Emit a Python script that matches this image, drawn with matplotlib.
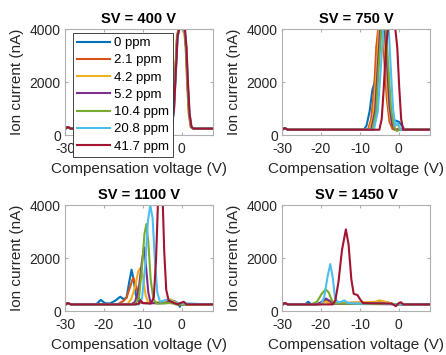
import matplotlib.pyplot as plt

plt.rcParams['font.family'] = ['Liberation Sans', 'DejaVu Sans']
plt.rcParams['axes.unicode_minus'] = False

labels = ['0 ppm', '2.1 ppm', '4.2 ppm', '5.2 ppm', '10.4 ppm', '20.8 ppm', '41.7 ppm']
colors = ['#0072BD', '#D95319', '#EDB120', '#7E2F8E', '#77AC30', '#4DBEEE', '#A2142F']
titles = ['SV = 400 V', 'SV = 750 V', 'SV = 1100 V', 'SV = 1450 V']

# SV = 400 V  (compensation voltage, ion current)
cv_400 = [
    [-30, -29.3, -28.5, -3.2, -2.5, -2.0, -1.5, -1.1, -0.7, 0.7, 1.1, 1.5, 1.9, 2.4, 3.0, 8],
    [-30, -29.3, -28.5, -3.3, -2.6, -2.1, -1.6, -1.2, -0.8, 0.6, 1.0, 1.4, 1.8, 2.3, 2.9, 8],
    [-30, -29.3, -28.5, -3.4, -2.7, -2.2, -1.7, -1.3, -0.9, 0.6, 1.0, 1.4, 1.8, 2.3, 2.9, 8],
    [-30, -29.3, -28.5, -3.3, -2.6, -2.1, -1.6, -1.2, -0.8, 0.7, 1.1, 1.5, 1.9, 2.4, 3.0, 8],
    [-30, -29.3, -28.5, -3.3, -2.6, -2.1, -1.6, -1.2, -0.8, 0.7, 1.1, 1.5, 1.9, 2.4, 3.0, 8],
    [-30, -29.3, -28.5, -3.2, -2.5, -2.0, -1.5, -1.1, -0.7, 0.8, 1.2, 1.6, 2.0, 2.5, 3.1, 8],
    [-30, -29.3, -28.5, -3.2, -2.5, -2.0, -1.5, -1.1, -0.7, 0.8, 1.2, 1.6, 2.0, 2.5, 3.1, 8],
]
ic_400 = [
    [230, 300, 240, 240, 350, 1000, 2500, 3700, 4000, 4000, 3300, 1900, 800, 300, 240, 240],
    [230, 300, 240, 240, 350, 1000, 2500, 3700, 4000, 4000, 3300, 1900, 800, 300, 240, 240],
    [230, 300, 240, 240, 350, 1000, 2500, 3700, 4000, 4000, 3300, 1900, 800, 300, 240, 240],
    [230, 300, 240, 240, 350, 1000, 2500, 3700, 4000, 4000, 3300, 1900, 800, 300, 240, 240],
    [230, 300, 240, 240, 350, 1000, 2500, 3700, 4000, 4000, 3300, 1900, 800, 300, 240, 240],
    [230, 300, 240, 240, 350, 1000, 2500, 3700, 4000, 4000, 3300, 1900, 800, 300, 240, 240],
    [230, 300, 240, 240, 350, 1000, 2500, 3700, 4000, 4000, 3300, 1900, 800, 300, 240, 240],
]

# SV = 750 V
cv_750 = [
    [-30, -29.3, -28.5, -9.0, -8.3, -7.5, -6.8, -6.2, -5.6, -5.0, -3.9, -3.3, -2.6, -1.9, -1.0, 0.0, 0.8, 1.5, 8],
    [-30, -29.3, -28.5, -7.9, -7.1, -6.3, -5.8, -5.3, -4.4, -3.8, -3.1, -2.4, -1.6, 8],
    [-30, -29.3, -28.5, -7.6, -6.6, -5.8, -5.1, -4.0, -3.4, -2.7, -2.0, -1.2, -0.4, 0.4, 8],
    [-30, -29.3, -28.5, -7.1, -6.1, -5.4, -4.8, -3.6, -3.0, -2.4, -1.7, -1.0, 8],
    [-30, -29.3, -28.5, -6.8, -5.8, -5.1, -4.5, -3.3, -2.7, -2.0, -1.2, -0.5, 0.2, 8],
    [-30, -29.3, -28.5, -6.4, -5.4, -4.6, -4.0, -2.6, -2.1, -1.5, -0.9, -0.3, 0.5, 8],
    [-30, -29.3, -28.5, -5.0, -4.4, -3.9, -3.3, -2.8, -0.9, -0.4, 0.1, 0.6, 1.1, 8],
]
ic_750 = [
    [200, 260, 200, 200, 350, 900, 1700, 2000, 3000, 4000, 4000, 2600, 1200, 650, 550, 500, 350, 200, 200],
    [200, 260, 200, 200, 600, 1800, 3300, 4000, 4000, 3000, 1400, 500, 220, 200],
    [200, 260, 200, 200, 700, 2200, 4000, 4000, 2800, 1200, 500, 350, 400, 200, 200],
    [200, 260, 200, 200, 900, 2600, 4000, 4000, 2600, 1100, 400, 200, 200],
    [200, 260, 200, 200, 900, 2700, 4000, 4000, 2600, 1000, 300, 150, 200, 200],
    [200, 260, 200, 200, 900, 2600, 4000, 4000, 2600, 1000, 350, 450, 200, 200],
    [200, 260, 200, 200, 600, 1700, 3300, 4000, 4000, 3300, 1800, 600, 200, 200],
]

# SV = 1100 V
cv_1100 = [
    [-30, -29.3, -28.5, -22.0, -20.8, -19.8, -18.5, -17.0, -15.8, -15.0, -14.2, -13.5, -12.9, -12.4, -11.8, -11.0, -10.0, -4.0, -3.0, -2.0, -1.0, -0.5, 0.0, 1.0, 8],
    [-30, -29.3, -28.5, -16.5, -15.0, -14.2, -13.4, -12.5, -11.8, -11.0, -10.3, -5.0, -3.5, -2.0, -1.0, 8],
    [-30, -29.3, -28.5, -14.0, -13.0, -12.0, -11.2, -10.6, -10.0, -9.3, -8.6, -5.0, -4.0, -3.0, -2.0, 0.0, 8],
    [-30, -29.3, -28.5, -13.0, -12.0, -11.0, -10.3, -9.7, -9.2, -8.6, -8.0, -4.0, -3.0, -1.5, 8],
    [-30, -29.3, -28.5, -12.0, -11.0, -10.3, -9.6, -9.1, -8.6, -8.0, -7.3, -6.5, -3.0, -1.0, 8],
    [-30, -29.3, -28.5, -11.0, -10.2, -9.4, -8.7, -8.1, -7.5, -6.9, -6.3, -5.6, -4.0, -3.0, -2.0, 8],
    [-30, -29.3, -28.5, -12.0, -11.0, -10.6, -10.0, -8.0, -7.2, -6.6, -6.1, -5.0, -4.5, -4.0, -3.4, -2.0, -1.0, 0.5, 1.2, 8],
]
ic_1100 = [
    [230, 300, 250, 250, 420, 300, 280, 400, 540, 450, 500, 1100, 1560, 1200, 600, 350, 300, 300, 400, 380, 300, 160, 300, 270, 250],
    [230, 300, 250, 250, 380, 500, 850, 1260, 1000, 500, 300, 300, 380, 330, 250, 250],
    [230, 300, 250, 250, 450, 900, 1500, 1630, 1300, 600, 300, 350, 400, 450, 350, 250, 250],
    [230, 300, 250, 250, 350, 900, 1800, 2400, 1700, 700, 300, 300, 380, 250, 250],
    [230, 300, 250, 250, 500, 1500, 2900, 3280, 2600, 1200, 450, 280, 300, 250, 250],
    [230, 300, 250, 250, 500, 1700, 3400, 4000, 3500, 1900, 700, 350, 420, 400, 300, 250],
    [230, 300, 250, 250, 280, 400, 300, 280, 500, 2000, 4200, 4600, 2200, 800, 400, 300, 260, 350, 250, 250],
]

# SV = 1450 V
cv_1450 = [
    [-30, -29.3, -28.5, -24.0, -23.3, -22.5, -20.0, -18.7, -17.5, -7.0, -5.0, -3.0, -1.0, 8],
    [-30, -29.3, -28.5, -21.0, -19.5, -18.7, -17.5, -6.0, -5.0, -3.0, -1.0, 8],
    [-30, -29.3, -28.5, -21.0, -19.5, -18.7, -17.5, -6.0, -5.0, -3.5, -1.0, 8],
    [-30, -29.3, -28.5, -21.0, -19.8, -18.7, -17.7, -16.8, 8],
    [-30, -29.3, -28.5, -22.5, -21.0, -19.8, -18.8, -18.0, -17.2, -16.5, 8],
    [-30, -29.3, -28.5, -20.0, -19.2, -18.3, -17.6, -17.0, -16.4, -15.7, -14.8, -14.0, -13.0, -10.0, -5.0, -1.0, 8],
    [-30, -29.3, -28.5, -17.0, -16.3, -15.5, -14.6, -13.6, -12.9, -12.2, -11.6, -10.6, -10.0, -9.2, -2.0, -1.2, -0.8, 0.0, 0.5, 1.2, 8],
]
ic_1450 = [
    [230, 300, 250, 250, 350, 260, 280, 400, 300, 300, 350, 320, 250, 250],
    [230, 300, 250, 250, 330, 380, 300, 330, 380, 320, 250, 250],
    [230, 300, 250, 250, 330, 350, 280, 350, 400, 350, 250, 250],
    [230, 300, 250, 250, 350, 470, 380, 270, 250],
    [230, 300, 250, 250, 350, 650, 820, 700, 400, 280, 250],
    [230, 300, 250, 250, 500, 1300, 1770, 1300, 500, 330, 350, 400, 300, 280, 300, 250, 250],
    [230, 300, 250, 250, 400, 1100, 2300, 3080, 2500, 1200, 650, 600, 450, 300, 280, 230, 180, 300, 330, 250, 250],
]

panel_cv = [cv_400, cv_750, cv_1100, cv_1450]
panel_ic = [ic_400, ic_750, ic_1100, ic_1450]

fig = plt.figure(figsize=(4.46, 3.55), dpi=100)
positions = [
    [0.1457, 0.6197, 0.3318, 0.2986],
    [0.6323, 0.6197, 0.3318, 0.2986],
    [0.1457, 0.1239, 0.3318, 0.2986],
    [0.6323, 0.1239, 0.3318, 0.2986],
]

for k in range(4):
    ax = fig.add_axes(positions[k])
    for i in range(len(labels)):
        ax.plot(panel_cv[k][i], panel_ic[k][i], color=colors[i], lw=1.5, label=labels[i])
    ax.set_xlim(-30, 8)
    ax.set_ylim(0, 4000)
    ax.set_xticks([-30, -20, -10, 0])
    ax.set_yticks([0, 2000, 4000])
    ax.tick_params(direction='in', top=True, right=True, labelsize=10,
                   colors='#b0b0b0', labelcolor='#262626', length=2.5)
    ax.tick_params(axis='x', pad=5)
    ax.tick_params(axis='y', pad=3)
    for s in ax.spines.values():
        s.set_color('#b0b0b0')
        s.set_linewidth(0.8)
    ax.set_title(titles[k], fontsize=10.5, fontweight='bold', color='black', pad=4)
    ax.set_xlabel('Compensation voltage (V)', fontsize=11, color='#262626', labelpad=4)
    ax.set_ylabel('Ion current (nA)', fontsize=11, color='#262626', labelpad=4)
    if k == 0:
        leg = ax.legend(loc='upper left', bbox_to_anchor=(0.052, 0.962), fontsize=9.5,
                        handlelength=2.5, handletextpad=0.3, labelspacing=0.38,
                        borderpad=0.3, borderaxespad=0, fancybox=False, framealpha=1)
        leg.get_frame().set_edgecolor('#262626')
        leg.get_frame().set_linewidth(0.6)
        leg.set_zorder(10)

fig.savefig('out.png', dpi=100)
